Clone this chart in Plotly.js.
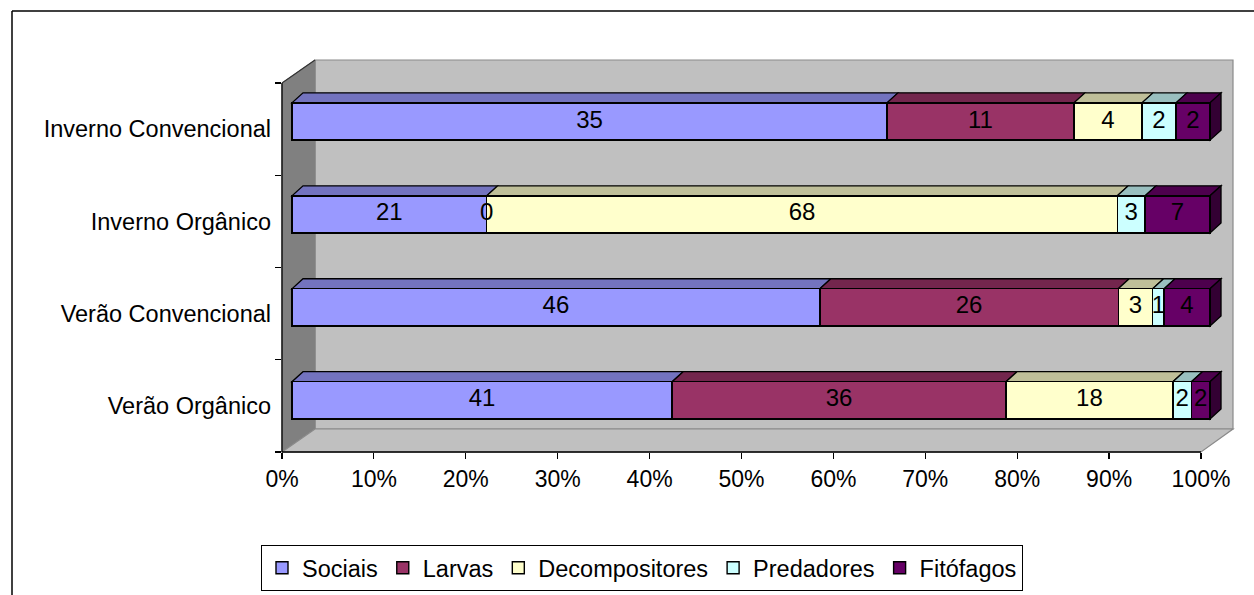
<!DOCTYPE html>
<html>
<head>
<meta charset="utf-8">
<script src="https://cdn.plot.ly/plotly-3.0.1.min.js"></script>
<style>
  html, body { margin: 0; padding: 0; background: #ffffff; }
  #chart { width: 1254px; height: 595px; }
</style>
</head>
<body>
<div id="chart"></div>
<script>
// ---------- DATA ----------
const categories = ['Inverno Convencional', 'Inverno Orgânico', 'Verão Convencional', 'Verão Orgânico'];
const seriesNames = ['Sociais', 'Larvas', 'Decompositores', 'Predadores', 'Fitófagos'];
const sociais        = [35, 21, 46, 41];
const larvas         = [11,  0, 26, 36];
const decompositores = [ 4, 68,  3, 18];
const predadores     = [ 2,  3,  1,  2];
const fitofagos      = [ 2,  7,  4,  2];
const xTickVals = [0, 10, 20, 30, 40, 50, 60, 70, 80, 90, 100];
const xTickText = ['0%', '10%', '20%', '30%', '40%', '50%', '60%', '70%', '80%', '90%', '100%'];

// ---------- STYLE ----------
const seriesValues = [sociais, larvas, decompositores, predadores, fitofagos];
const colors = ['#9999FF', '#993366', '#FFFFCC', '#CCFFFF', '#660066'];
const FONT = 'Liberation Sans, Arial, Helvetica, sans-serif';

function darken(hex, f) {
  const n = parseInt(hex.slice(1), 16);
  const r = Math.round(((n >> 16) & 255) * f);
  const g = Math.round(((n >> 8) & 255) * f);
  const b = Math.round((n & 255) * f);
  return 'rgb(' + r + ',' + g + ',' + b + ')';
}

// geometry (pixels) of plot area
const W = 1254, H = 595;
const L = 282, R = 1233, T = 60, B = 452;
const px = x => (x - L) / (R - L);
const py = y => (B - y) / (B - T);

// axis ranges
const xRange = [-1.0893, 102.505];   // bars (front face of bars)
const x2Range = [0, 103.482];        // front plane ticks
const yRange = [-0.5557, 3.6616];    // bars
const y2Range = [-0.5, 3.7493];      // front plane category labels
const barWidth = 0.401;
const depthX = 1.2;      // in % units
const depthY = 0.1076;   // in category units

// positions
const nCat = categories.length;
const yPos = categories.map((c, i) => nCat - 1 - i);
const totals = categories.map((c, i) => seriesValues.reduce((s, arr) => s + arr[i], 0));
const pct = seriesValues.map(arr => arr.map((v, i) => v / totals[i] * 100));

const traces = [];
seriesNames.forEach((name, k) => {
  traces.push({
    type: 'bar', orientation: 'h', name: name,
    x: pct[k], y: yPos, width: barWidth,
    marker: { color: colors[k], line: { color: '#000000', width: 1.4 } },
    hoverinfo: 'skip', xaxis: 'x', yaxis: 'y'
  });
});

// labels
const labX = [], labY = [], labT = [];
const shapes = [];

// walls (decoration)
function pathPx(pts) {
  return 'M' + pts.map(p => px(p[0]).toFixed(5) + ',' + py(p[1]).toFixed(5)).join(' L') + ' Z';
}
shapes.push({ type: 'path', xref: 'paper', yref: 'paper', layer: 'below',
  path: pathPx([[315, 60], [1233, 60], [1233, 429], [315, 429]]),
  fillcolor: '#C0C0C0', line: { color: '#8A8A8A', width: 1.2 } });
shapes.push({ type: 'path', xref: 'paper', yref: 'paper', layer: 'below',
  path: pathPx([[282, 83], [315, 60], [315, 429], [282, 452]]),
  fillcolor: '#808080', line: { color: '#808080', width: 1 } });
shapes.push({ type: 'path', xref: 'paper', yref: 'paper', layer: 'below',
  path: pathPx([[282, 452], [315, 429], [1233, 429], [1201, 452]]),
  fillcolor: '#C0C0C0', line: { color: '#8A8A8A', width: 1.2 } });
// black front edges
shapes.push({ type: 'line', xref: 'paper', yref: 'paper', layer: 'below',
  x0: px(282), y0: py(83), x1: px(282), y1: py(452), line: { color: '#000000', width: 1.3 } });
shapes.push({ type: 'line', xref: 'paper', yref: 'paper', layer: 'below',
  x0: px(282), y0: py(452), x1: px(1201), y1: py(452), line: { color: '#000000', width: 1.3 } });
shapes.push({ type: 'line', xref: 'paper', yref: 'paper', layer: 'below',
  x0: px(282), y0: py(83), x1: px(315), y1: py(60), line: { color: '#333333', width: 1.2 } });
// outer chart border (left and top)
shapes.push({ type: 'line', xref: 'paper', yref: 'paper', layer: 'below',
  x0: px(12), y0: py(11), x1: px(12), y1: py(600), line: { color: '#000000', width: 1.5 } });
shapes.push({ type: 'line', xref: 'paper', yref: 'paper', layer: 'below',
  x0: px(12), y0: py(11), x1: px(1260), y1: py(11), line: { color: '#000000', width: 1.5 } });

// 3D bar faces + data labels from the data
categories.forEach((c, i) => {
  const yc = yPos[i];
  const hb = barWidth / 2;
  let cum = 0;
  let lastK = -1;
  seriesNames.forEach((n, k) => { if (pct[k][i] > 0) lastK = k; });
  seriesNames.forEach((n, k) => {
    const x0 = cum, x1 = cum + pct[k][i];
    labX.push((x0 + x1) / 2); labY.push(yc); labT.push(String(seriesValues[k][i]));
    if (x1 > x0) {
      shapes.push({ type: 'path', xref: 'x', yref: 'y', layer: 'below',
        path: 'M' + x0 + ',' + (yc + hb) + ' L' + x1 + ',' + (yc + hb) +
              ' L' + (x1 + depthX) + ',' + (yc + hb + depthY) + ' L' + (x0 + depthX) + ',' + (yc + hb + depthY) + ' Z',
        fillcolor: darken(colors[k], 0.75), line: { color: '#000000', width: 1.3 } });
      if (k === lastK) {
        shapes.push({ type: 'path', xref: 'x', yref: 'y', layer: 'below',
          path: 'M' + x1 + ',' + (yc - hb) + ' L' + x1 + ',' + (yc + hb) +
                ' L' + (x1 + depthX) + ',' + (yc + hb + depthY) + ' L' + (x1 + depthX) + ',' + (yc - hb + depthY) + ' Z',
          fillcolor: darken(colors[k], 0.5), line: { color: '#000000', width: 1.3 } });
      }
    }
    cum = x1;
  });
});

traces.push({
  type: 'scatter', mode: 'text', x: labX, y: labY, text: labT,
  textposition: 'middle center', textfont: { family: FONT, size: 24, color: '#000000' },
  hoverinfo: 'skip', showlegend: false, xaxis: 'x', yaxis: 'y', cliponaxis: false
});

// dummy trace for front-plane axes
traces.push({
  type: 'scatter', mode: 'markers', x: categories.map(() => 50), y: categories.slice().reverse(),
  marker: { opacity: 0, size: 1 }, hoverinfo: 'skip', showlegend: false, xaxis: 'x2', yaxis: 'y2'
});

const layout = {
  width: W, height: H,
  margin: { l: L, r: W - R, t: T, b: H - B, pad: 0, autoexpand: false },
  paper_bgcolor: '#ffffff', plot_bgcolor: 'rgba(0,0,0,0)',
  barmode: 'stack', bargap: 0,
  font: { family: FONT, size: 23, color: '#000000' },
  showlegend: true,
  legend: {
    orientation: 'h', x: px(261), y: py(591), xanchor: 'left', yanchor: 'bottom',
    bordercolor: '#000000', borderwidth: 1, bgcolor: '#ffffff',
    font: { family: FONT, size: 23.5, color: '#000000' }, traceorder: 'normal'
  },
  xaxis: { range: xRange, showticklabels: false, showgrid: false, zeroline: false, showline: false, ticks: '', fixedrange: true },
  yaxis: { range: yRange, showticklabels: false, showgrid: false, zeroline: false, showline: false, ticks: '', fixedrange: true },
  xaxis2: { overlaying: 'x', anchor: 'y2', side: 'bottom', range: x2Range,
    tickmode: 'array', tickvals: xTickVals, ticktext: xTickText,
    ticks: 'outside', ticklen: 6, tickcolor: '#000000', tickwidth: 1.2,
    showgrid: false, zeroline: false, showline: false,
    tickfont: { family: FONT, size: 23, color: '#000000' }, fixedrange: true },
  yaxis2: { overlaying: 'y', anchor: 'x2', side: 'left', type: 'category',
    categoryorder: 'array', categoryarray: categories.slice().reverse(),
    range: y2Range, tickson: 'boundaries',
    ticks: 'outside', ticklen: 6, tickcolor: '#000000', tickwidth: 1.2, ticklabelstandoff: 10,
    showgrid: false, zeroline: false, showline: false,
    tickfont: { family: FONT, size: 23.5, color: '#000000' }, fixedrange: true },
  shapes: shapes
};

Plotly.newPlot('chart', traces, layout, { displayModeBar: false, staticPlot: true });
</script>
</body>
</html>
